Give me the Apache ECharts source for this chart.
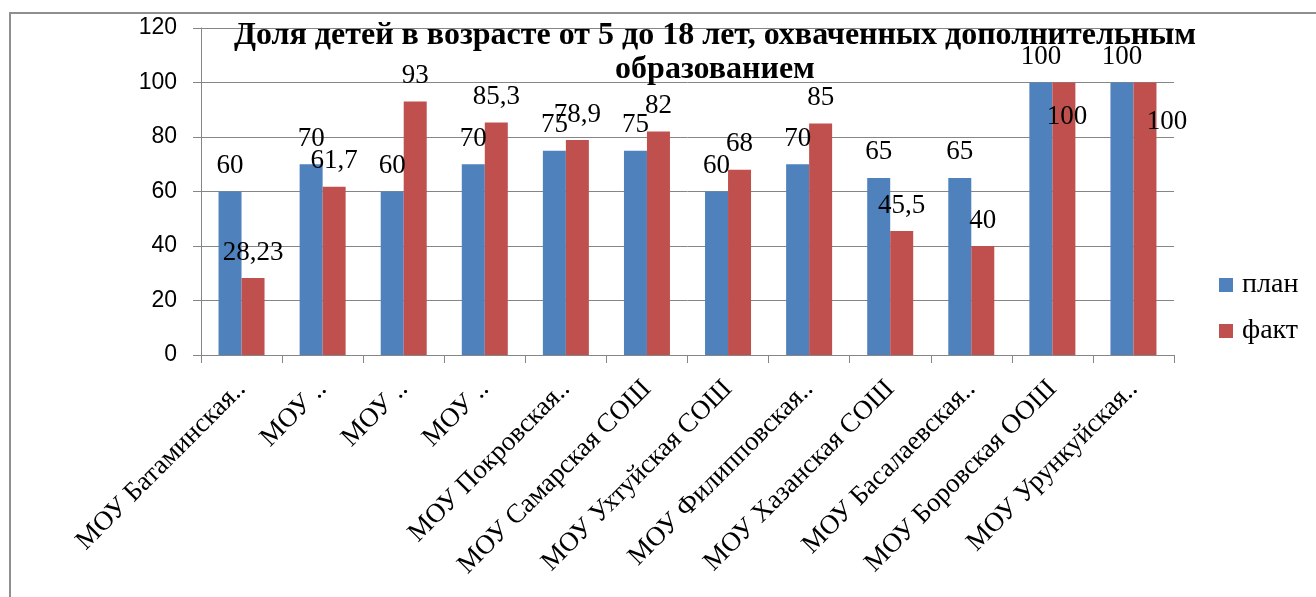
<!DOCTYPE html>
<html>
<head>
<meta charset="utf-8">
<script src="https://cdn.jsdelivr.net/npm/echarts@6/dist/echarts.min.js"></script>
<style>
  html, body { margin: 0; padding: 0; background: #fff; }
  #chart_dop_obr { width: 1316px; height: 597px; }
</style>
</head>
<body>
<div id="chart_dop_obr"></div>
<script>
  const titleText = 'Доля детей в возрасте от 5 до 18 лет, охваченных дополнительным\nобразованием';
  const schools = [
    'МОУ Батаминская..', 'МОУ ..', 'МОУ ..', 'МОУ ..',
    'МОУ Покровская..', 'МОУ Самарская СОШ', 'МОУ Ухтуйская СОШ',
    'МОУ Филипповская..', 'МОУ Хазанская СОШ', 'МОУ Басалаевская..',
    'МОУ Боровская ООШ', 'МОУ Урункуйская..'
  ];
  const plan = [60, 70, 60, 70, 75, 75, 60, 70, 65, 65, 100, 100];
  const fact = [28.23, 61.7, 93, 85.3, 78.9, 82, 68, 85, 45.5, 40, 100, 100];
  const yTicks = [0, 20, 40, 60, 80, 100, 120];

  // подписи "100" у факта в Excel сдвинуты внутрь столбца
  const factLabelShift = { 10: [3, 60], 11: [22, 65] };

  const serif = '"Liberation Serif", "Times New Roman", serif';
  const gray = '#868686';

  const fmt = p => String(p.value).replace('.', ',');

  let chart = echarts.init(document.getElementById('chart_dop_obr'));
  chart.setOption({
    animation: false,
    title: {
      text: titleText,
      left: 715,
      top: 19,
      padding: 0,
      textAlign: 'center',
      textStyle: {
        fontFamily: serif,
        fontWeight: 'bold',
        fontSize: 32,
        lineHeight: 34,
        color: '#000'
      }
    },
    legend: {
      orient: 'vertical',
      left: 1214,
      top: 266,
      itemWidth: 14,
      itemHeight: 14,
      itemGap: 18,
      icon: 'rect',
      textStyle: {
        fontFamily: serif,
        fontSize: 28,
        color: '#000',
        padding: [0, 0, 0, 4]
      },
      data: ['план', 'факт']
    },
    graphic: [{
      type: 'rect',
      silent: true,
      shape: { x: 10, y: 13, width: 1400, height: 700 },
      style: { fill: 'none', stroke: '#8f8f8f', lineWidth: 2 }
    }],
    grid: {
      left: 201,
      right: 142,
      top: 28,
      bottom: 242
    },
    xAxis: {
      type: 'category',
      data: schools,
      axisLine: { lineStyle: { color: gray } },
      axisTick: { show: true, length: 8, lineStyle: { color: gray } },
      axisLabel: {
        interval: 0,
        rotate: 45,
        margin: 30,
        fontFamily: serif,
        fontSize: 27,
        color: '#000'
      },
      splitLine: { show: false }
    },
    yAxis: {
      type: 'value',
      min: yTicks[0],
      max: yTicks[yTicks.length - 1],
      interval: 20,
      axisLine: { show: true, lineStyle: { color: gray } },
      axisTick: { show: true, length: 8, lineStyle: { color: gray } },
      axisLabel: {
        margin: 24,
        fontFamily: '"Liberation Sans", Arial, sans-serif',
        fontSize: 23,
        color: '#000'
      },
      splitLine: { lineStyle: { color: gray, width: 1 } }
    },
    series: [
      {
        name: 'план',
        type: 'bar',
        barWidth: 23,
        barGap: '0%',
        color: '#4F81BD',
        label: {
          show: true,
          position: 'top',
          distance: 12,
          formatter: fmt,
          fontFamily: serif,
          fontSize: 27,
          color: '#000'
        },
        data: plan
      },
      {
        name: 'факт',
        type: 'bar',
        barWidth: 23,
        barGap: '0%',
        color: '#C0504D',
        label: {
          show: true,
          position: 'top',
          distance: 12,
          formatter: fmt,
          fontFamily: serif,
          fontSize: 27,
          color: '#000'
        },
        data: fact.map((v, i) => factLabelShift[i]
          ? { value: v, label: { offset: factLabelShift[i] } }
          : v)
      }
    ]
  });
</script>
</body>
</html>
